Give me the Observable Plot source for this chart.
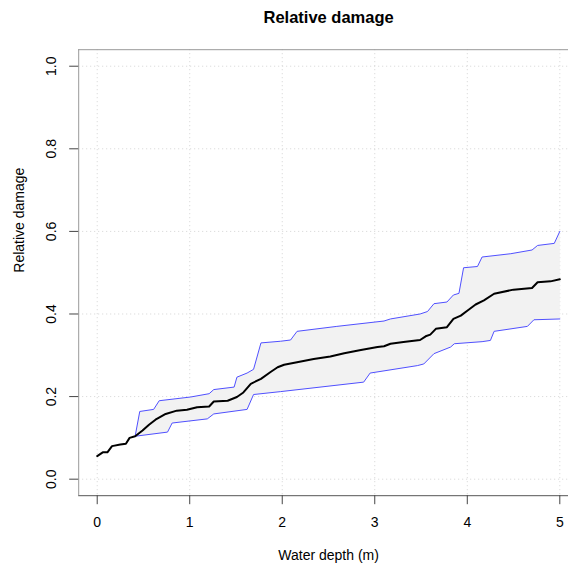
<!DOCTYPE html>
<html>
<head>
<meta charset="utf-8">
<script src="https://cdn.jsdelivr.net/npm/d3@7"></script>
<script src="https://cdn.jsdelivr.net/npm/@observablehq/plot@0.6"></script>
<style>
  html, body { margin: 0; padding: 0; background: #fff; }
  svg { display: block; }
</style>
</head>
<body>
<div id="chart"></div>
<script>
// Tick values
const xTicks = [0, 1, 2, 3, 4, 5];
const yTicks = [0, 0.2, 0.4, 0.6, 0.8, 1.0];

// Median relative damage curve
const medX = [0.00,0.06,0.11,0.16,0.25,0.31,0.35,0.41,0.49,0.56,0.63,0.74,0.86,0.97,1.08,1.21,1.26,1.41,1.51,1.58,1.66,1.77,1.87,1.95,2.02,2.16,2.34,2.52,2.67,2.85,3.03,3.10,3.17,3.31,3.49,3.55,3.60,3.66,3.78,3.85,3.93,4.00,4.09,4.18,4.29,4.50,4.70,4.76,4.90,5.00];
const medY = [0.056,0.065,0.065,0.080,0.084,0.086,0.100,0.104,0.118,0.132,0.144,0.158,0.166,0.168,0.174,0.176,0.188,0.190,0.199,0.210,0.231,0.243,0.259,0.271,0.277,0.283,0.291,0.297,0.305,0.313,0.320,0.322,0.328,0.332,0.337,0.346,0.350,0.364,0.368,0.388,0.396,0.408,0.423,0.433,0.449,0.459,0.463,0.477,0.479,0.484];

// Upper bound
const upX = [0.41,0.46,0.61,0.67,1.01,1.21,1.26,1.48,1.51,1.62,1.69,1.77,1.98,2.09,2.16,2.59,3.10,3.17,3.49,3.57,3.64,3.78,3.85,3.91,3.96,4.11,4.16,4.47,4.70,4.76,4.94,5.00];
const upY = [0.104,0.164,0.169,0.190,0.199,0.207,0.217,0.223,0.247,0.257,0.266,0.330,0.334,0.337,0.358,0.370,0.383,0.388,0.400,0.406,0.425,0.429,0.446,0.450,0.512,0.515,0.538,0.546,0.555,0.566,0.571,0.600];

// Lower bound
const loX = [0.41,0.76,0.81,1.19,1.26,1.62,1.69,1.98,2.88,2.95,3.46,3.53,3.64,3.82,3.86,4.16,4.25,4.29,4.65,4.72,5.00];
const loY = [0.104,0.114,0.136,0.146,0.158,0.169,0.205,0.212,0.235,0.257,0.275,0.279,0.304,0.320,0.328,0.333,0.336,0.358,0.370,0.386,0.388];

const med = medX.map((x, i) => ({x, y: medY[i]}));
const up = upX.map((x, i) => ({x, y: upY[i]}));
const lo = loX.map((x, i) => ({x, y: loY[i]}));
const band = [...up, ...lo.slice().reverse()];

const xDomain = [-0.2, 5.094];
const yDomain = [-0.04, 1.04];
const font = "'Liberation Sans', Arial, sans-serif";

const chart = Plot.plot({
  width: 568,
  height: 567,
  marginLeft: 78.2,
  marginRight: 0,
  marginTop: 49.2,
  marginBottom: 71.8,
  style: {fontFamily: font, fontSize: "14px", background: "#fff", color: "#000"},
  x: {domain: xDomain},
  y: {domain: yDomain},
  marks: [
    // dotted grid
    Plot.ruleX(xTicks, {stroke: "#d3d3d3", strokeDasharray: "1,3"}),
    Plot.ruleY(yTicks, {stroke: "#d3d3d3", strokeDasharray: "1,3"}),
    // confidence band
    Plot.line(band, {x: "x", y: "y", fill: "#f2f2f2", stroke: "none"}),
    Plot.line(up, {x: "x", y: "y", stroke: "#5050ff", strokeWidth: 1}),
    Plot.line(lo, {x: "x", y: "y", stroke: "#5050ff", strokeWidth: 1}),
    Plot.line(med, {x: "x", y: "y", stroke: "#000", strokeWidth: 2}),
    // box
    Plot.ruleY([yDomain[1]], {stroke: "#999"}),
    Plot.ruleX([xDomain[0]], {stroke: "#999"}),
    Plot.ruleY([yDomain[0]], {stroke: "#555"}),
    // axes
    Plot.axisX({ticks: xTicks, tickSize: 9, tickPadding: 12, tickFormat: d => String(d), label: null, fontSize: 14, stroke: "#444"}),
    Plot.axisY({ticks: yTicks, tickSize: 9, tickPadding: 14, tickRotate: -90, tickFormat: d => d.toFixed(1), label: null, fontSize: 14, stroke: "#444"}),
    // titles
    Plot.text(["Relative damage"], {frameAnchor: "top", dx: 5, dy: -27, lineAnchor: "bottom", fontWeight: "bold", fontSize: 16.5, fill: "#000"}),
    Plot.text(["Water depth (m)"], {frameAnchor: "bottom", dx: 5, dy: 64, lineAnchor: "bottom", fontSize: 14, fill: "#000"}),
    Plot.text(["Relative damage"], {frameAnchor: "left", dx: -59, rotate: -90, lineAnchor: "middle", fontSize: 14, fill: "#000"})
  ]
});
document.getElementById("chart").appendChild(chart);
</script>
</body>
</html>
